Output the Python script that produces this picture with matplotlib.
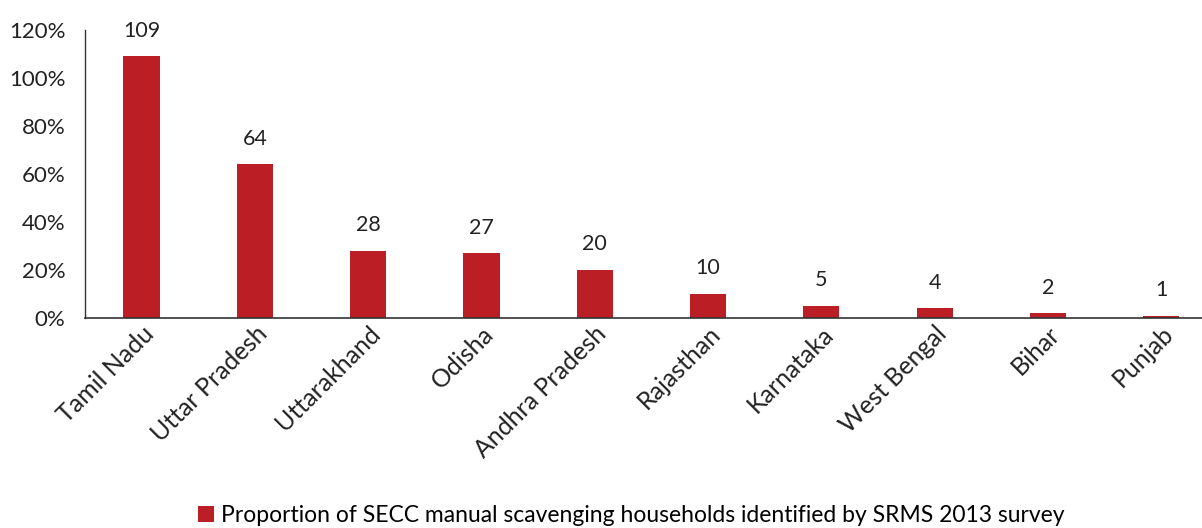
import matplotlib.pyplot as plt
import numpy as np

plt.rcParams['font.family'] = ['Lato', 'DejaVu Sans']

states = ['Tamil Nadu', 'Uttar Pradesh', 'Uttarakhand', 'Odisha', 'Andhra Pradesh',
          'Rajasthan', 'Karnataka', 'West Bengal', 'Bihar', 'Punjab']
values = [109, 64, 28, 27, 20, 10, 5, 4, 2, 1]
yticks = [0, 20, 40, 60, 80, 100, 120]
legend_label = 'Proportion of SECC manual scavenging households identified by SRMS 2013 survey'

red = '#BC1E26'

fig = plt.figure(figsize=(12.02, 5.28), dpi=100)
ax = fig.add_axes([0.0707, 0.3977, 0.9293, 0.5455])

x = np.arange(len(states))
bars = ax.bar(x, values, width=0.32, color=red, label=legend_label)
for xi, v in zip(x, values):
    ax.text(xi, v + 6.5, str(v), ha='center', va='bottom', fontsize=15.5, color='#222222')

ax.set_xlim(-0.5, 9.36)
ax.set_ylim(0, 120)
ax.set_yticks(yticks)
ax.set_yticklabels([f'{t}%' for t in yticks], fontsize=16, color='#222222')
ax.set_xticks(x)
ax.set_xticklabels(states, rotation=45, ha='right', rotation_mode='anchor',
                   fontsize=18, color='#222222')
ax.tick_params(axis='both', length=0)
ax.tick_params(axis='y', pad=14)
ax.tick_params(axis='x', pad=3)
for s in ['top', 'right']:
    ax.spines[s].set_visible(False)
ax.spines['left'].set_color('#333333')
ax.spines['bottom'].set_color('#333333')
ax.spines['left'].set_linewidth(1)
ax.spines['bottom'].set_linewidth(1.2)

fig.legend(handles=[bars], labels=[legend_label], loc='lower center',
           bbox_to_anchor=(0.525, -0.035), frameon=False, fontsize=16.5,
           handlelength=0.7, handleheight=0.7, handletextpad=0.3)

fig.savefig('out.png', dpi=100)
